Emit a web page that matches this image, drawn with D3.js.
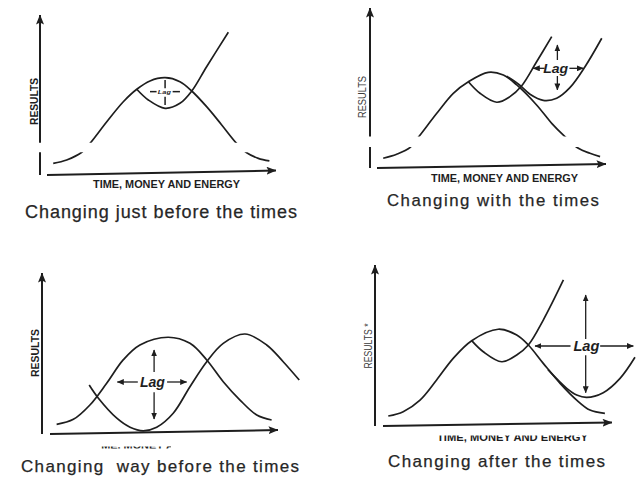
<!DOCTYPE html>
<html>
<head>
<meta charset="utf-8">
<script src="https://cdn.jsdelivr.net/npm/d3@7/dist/d3.min.js"></script>
<style>
  html, body { margin: 0; padding: 0; background: #ffffff; }
  svg { display: block; }
  text { white-space: pre; }
</style>
</head>
<body>
<svg id="chart" width="640" height="480"></svg>
<script>
// ---------- DATA (x = time/money/energy, y = results, both 0..100 per panel) ----------
const xAxisTitle = "TIME, MONEY AND ENERGY";
const yAxisTitles = ["RESULTS", "RESULTS", "RESULTS", "RESULTS *"];
const captions = [
  "Changing just before the times",
  "Changing with the times",
  "Changing  way before the times",
  "Changing after the times"
];
const lagLabel = "Lag";

// Panel 1 – changing just before the times
const justBeforeOld = [[5.6,7.3],[11.3,9.4],[17.7,14.2],[21.2,19.8],[28.3,33.3],[35.3,45.8],[41.0,53.6],
  [46.6,58.8],[53.0,60.8],[59.3,58.3],[64.3,52.5],[70.6,42.7],[77.0,31.3],[83.3,19.8],[87.6,13.9],[92.5,10.4],[97.2,8.8]];
const justBeforeNew = [[41.0,53.6],[45.9,46.9],[53.0,41.7],[59.3,44.8],[64.3,52.5],[70.6,67.7],[79.8,89.2]];

// Panel 2 – changing with the times
const withOld = [[5.6,6.1],[11.3,8.6],[16.9,12.7],[20.9,20.0],[28.3,34.2],[35.3,46.7],[41.7,53.9],[50.1,59.8],
  [56.5,58.1],[62.2,51.9],[70.6,39.4],[77.0,27.9],[82.6,19.6],[88.3,12.3],[93.2,9.2],[97.5,7.1]];
const withNew = [[41.7,53.9],[46.6,46.7],[53.7,41.1],[59.3,44.6],[64.3,51.4],[70.6,66.4],[77.0,82.1]];
const withLate = [[57.9,57.4],[62.8,52.6],[67.8,46.1],[73.4,42.3],[79.1,43.6],[84.7,50.2],[91.1,63.3],[98.2,81.1]];

// Panel 3 – changing way before the times
const wayBeforeOld = [[6.2,6.0],[13.3,9.1],[20.3,18.0],[27.4,31.5],[34.4,46.0],[41.5,55.3],[53.5,60.1],
  [62.7,56.3],[69.8,46.0],[76.8,32.5],[83.9,21.1],[91.0,11.8],[97.3,8.7]];
const wayBeforeNew = [[20.0,30.4],[23.9,22.2],[31.7,9.8],[37.3,4.2],[42.9,2.0],[48.6,4.2],[55.6,12.9],
  [62.7,29.4],[69.8,44.9],[76.8,56.3],[86.0,62.1],[95.2,55.3],[102.2,44.9],[109.0,33.5]];

// Panel 4 – changing after the times
const afterOld = [[5.6,6.2],[11.9,8.9],[19.0,16.1],[26.0,28.6],[33.0,42.0],[40.8,53.0],[52.0,60.1],
  [59.8,56.5],[64.7,50.3],[71.0,38.9],[78.1,26.5],[85.1,16.1],[90.7,9.9],[97.0,7.9]];
const afterNew = [[40.8,53.0],[45.7,46.1],[53.5,39.9],[59.8,44.1],[64.7,50.3],[71.0,65.8],[79.5,90.7]];
const afterLate = [[73.0,35.0],[80.9,23.4],[85.1,19.3],[89.3,17.8],[96.3,20.7],[103.4,29.6],[109.7,42.7]];

// ---------- LAYOUT ----------
const panels = [
  { frame: {x0:40,  x1:276, y0:175, y1:15,  xs:47,  tipY:170.5}, series:[justBeforeOld, justBeforeNew],
    brk:[14.2,20.2], yBold:true,  yTitle:{bx:38, cy:101.5, len:47},
    xTitle:{cx:166.5, by:188, len:147}, cap:{x:25, by:217.5, len:272, size:18},
    lag:{type:"cross", x:53, y:52.1, v:[[54.2,59.4],[43.8,48.9]], h:[[46.6,49.4],[56.2,59.3]], tx:52.7, ty:50.8, size:5.5, len:13} },
  { frame: {x0:370, x1:606, y0:168, y1:8,   xs:377, tipY:164}, series:[withOld, withNew, withLate],
    brk:[13.1,19.7], yBold:false, yTitle:{bx:366, cy:97, len:42},
    xTitle:{cx:504.5, by:181.5, len:147}, cap:{x:387, by:205.5, len:212, size:16.8},
    lag:{type:"arrows", x:79.4, y:62.3, v:[[67.5,76.9],[57.5,48.8]], h:[[74.0,69.2],[84.5,90.4]], tx:78.7, ty:59.5, size:12.5, len:25} },
  { frame: {x0:42,  x1:278, y0:434, y1:273, xs:50,  tipY:430}, series:[wayBeforeOld, wayBeforeNew],
    brk:null, yBold:true, yTitle:{bx:39, cy:353, len:48},
    xTitle:{cx:165, by:448.5, len:147, clip:[101,446.6,70,2]}, cap:{x:21, by:472, len:278, size:17},
    lag:{type:"arrows", x:47.5, y:32.3, v:[[38.5,52.2],[26.0,9.3]], h:[[40.6,31.9],[53.0,61.3]], tx:46.8, ty:29.5, size:14.5, len:25} },
  { frame: {x0:375, x1:612, y0:426, y1:265, xs:383, tipY:422.5}, series:[afterOld, afterNew, afterLate],
    brk:null, yBold:false, yTitle:{bx:372, cy:346, len:45},
    xTitle:{cx:512.5, by:440.8, len:151, clip:[420,435.6,190,10]}, cap:{x:388, by:467.3, len:217, size:17},
    lag:{type:"arrows", x:88.9, y:49.7, v:[[54.0,81.4],[44.0,20.7]], h:[[82.5,67.5],[95.0,109.0]], tx:89.2, ty:46.8, size:14, len:26} }
];

const INK = "#1e1e1e";
const svg = d3.select("#chart");
svg.append("rect").attr("width", 640).attr("height", 480).attr("fill", "#ffffff");

const defs = svg.append("defs");
defs.append("marker").attr("id", "axisHead")
  .attr("viewBox", "0 0 10 8").attr("refX", 9.5).attr("refY", 4)
  .attr("markerWidth", 10).attr("markerHeight", 8)
  .attr("markerUnits", "userSpaceOnUse").attr("orient", "auto")
  .append("path").attr("d", "M0,0 L10,4 L0,8 L2,4 Z").attr("fill", INK);
defs.append("marker").attr("id", "lagHead")
  .attr("viewBox", "0 0 7 6").attr("refX", 6.5).attr("refY", 3)
  .attr("markerWidth", 7).attr("markerHeight", 6)
  .attr("markerUnits", "userSpaceOnUse").attr("orient", "auto")
  .append("path").attr("d", "M0,0 L7,3 L0,6 Z").attr("fill", INK);

panels.forEach((p, i) => {
  const f = p.frame;
  const x = d3.scaleLinear().domain([0, 100]).range([f.x0, f.x1]);
  const y = d3.scaleLinear().domain([0, 100]).range([f.y0, f.y1]);
  const g = svg.append("g");

  // clip for broken axis band
  let clipId = null;
  if (p.brk) {
    clipId = "brk" + i;
    const cp = defs.append("clipPath").attr("id", clipId).attr("clipPathUnits", "userSpaceOnUse");
    cp.append("rect").attr("x", 0).attr("y", 0).attr("width", 640).attr("height", y(p.brk[1]));
    cp.append("rect").attr("x", 0).attr("y", y(p.brk[0])).attr("width", 640).attr("height", 480 - y(p.brk[0]));
  }

  // y axis (with break)
  if (p.brk) {
    g.append("line").attr("x1", x(0)).attr("x2", x(0)).attr("y1", y(p.brk[1])).attr("y2", y(100))
      .attr("stroke", INK).attr("stroke-width", 2).attr("marker-end", "url(#axisHead)");
    g.append("line").attr("x1", x(0)).attr("x2", x(0)).attr("y1", y(0)).attr("y2", y(p.brk[0]))
      .attr("stroke", INK).attr("stroke-width", 2);
  } else {
    g.append("line").attr("x1", x(0)).attr("x2", x(0)).attr("y1", y(0)).attr("y2", y(100))
      .attr("stroke", INK).attr("stroke-width", 2).attr("marker-end", "url(#axisHead)");
  }
  // x axis (slightly tilted as in the drawing)
  g.append("line").attr("x1", f.xs).attr("y1", y(0)).attr("x2", x(100)).attr("y2", f.tipY)
    .attr("stroke", INK).attr("stroke-width", 2).attr("marker-end", "url(#axisHead)");

  // curves
  const line = d3.line().x(d => x(d[0])).y(d => y(d[1])).curve(d3.curveCatmullRom.alpha(0.5));
  const cg = g.append("g");
  if (clipId) cg.attr("clip-path", `url(#${clipId})`);
  p.series.forEach(s => {
    cg.append("path").attr("d", line(s)).attr("fill", "none")
      .attr("stroke", INK).attr("stroke-width", 1.7).attr("stroke-linejoin", "round");
  });

  // lag annotation
  const L = p.lag;
  const marker = L.type === "arrows" ? "url(#lagHead)" : null;
  L.v.forEach(seg => {
    g.append("line").attr("x1", x(L.x)).attr("x2", x(L.x)).attr("y1", y(seg[0])).attr("y2", y(seg[1]))
      .attr("stroke", INK).attr("stroke-width", L.type === "arrows" ? 1.3 : 1.5).attr("marker-end", marker);
  });
  L.h.forEach(seg => {
    g.append("line").attr("x1", x(seg[0])).attr("x2", x(seg[1])).attr("y1", y(L.y)).attr("y2", y(L.y))
      .attr("stroke", INK).attr("stroke-width", L.type === "arrows" ? 1.3 : 1.5).attr("marker-end", marker);
  });
  g.append("text").attr("x", x(L.tx)).attr("y", y(L.ty)).attr("text-anchor", "middle")
    .attr("font-family", "'Liberation Sans', Arial, sans-serif").attr("font-style", "italic")
    .attr("font-weight", "bold").attr("font-size", L.size).attr("fill", INK)
    .attr("textLength", L.len).attr("lengthAdjust", "spacingAndGlyphs").text(lagLabel);

  // y title
  g.append("text")
    .attr("transform", `translate(${p.yTitle.bx},${p.yTitle.cy}) rotate(-90)`)
    .attr("text-anchor", "middle")
    .attr("font-family", "'Liberation Sans', Arial, sans-serif")
    .attr("font-weight", p.yBold ? "bold" : "normal").attr("font-size", 10)
    .attr("fill", p.yBold ? INK : "#3a3a3a")
    .attr("textLength", p.yTitle.len).attr("lengthAdjust", "spacingAndGlyphs")
    .text(yAxisTitles[i]);

  // x title
  let xt = g;
  if (p.xTitle.clip) {
    const c = p.xTitle.clip;
    const cid = "xt" + i;
    defs.append("clipPath").attr("id", cid).attr("clipPathUnits", "userSpaceOnUse")
      .append("rect").attr("x", c[0]).attr("y", c[1]).attr("width", c[2]).attr("height", c[3]);
    xt = g.append("g").attr("clip-path", `url(#${cid})`);
  }
  xt.append("text").attr("x", p.xTitle.cx).attr("y", p.xTitle.by).attr("text-anchor", "middle")
    .attr("font-family", "'Liberation Sans', Arial, sans-serif").attr("font-weight", "bold")
    .attr("font-size", 10).attr("fill", INK)
    .attr("textLength", p.xTitle.len).attr("lengthAdjust", "spacingAndGlyphs")
    .text(xAxisTitle);

  // caption
  svg.append("text").attr("x", p.cap.x).attr("y", p.cap.by)
    .attr("font-family", "'Liberation Sans', Arial, sans-serif")
    .attr("font-size", p.cap.size).attr("fill", "#262626")
    .attr("stroke", "#262626").attr("stroke-width", 0.25)
    .attr("textLength", p.cap.len).attr("lengthAdjust", "spacing")
    .text(captions[i]);
});
</script>
</body>
</html>
